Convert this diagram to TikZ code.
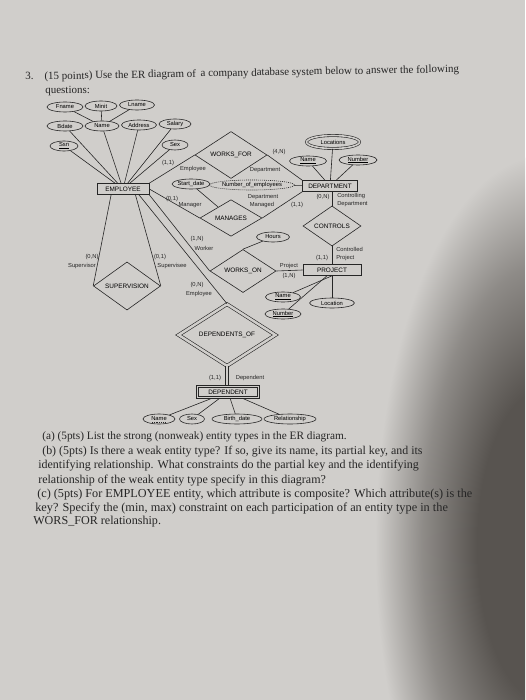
\documentclass[tikz,border=0pt]{standalone}
\usepackage{fontspec}
\setmainfont{Liberation Serif}
\setsansfont{Liberation Sans}
\usetikzlibrary{shapes.geometric, calc}

\definecolor{paper}{RGB}{208,206,203}
\definecolor{shadowc}{RGB}{88,84,80}
\definecolor{ink}{RGB}{38,38,38}
\pgfdeclareradialshading{pageshadow}{\pgfpoint{0bp}{0bp}}{color(0bp)=(shadowc); color(10bp)=(shadowc); color(18bp)=(paper!45!shadowc); color(25bp)=(paper); color(50bp)=(paper)}

\tikzset{
  entity/.style={draw=ink, rectangle, font=\sffamily\fontsize{6.4}{7}\selectfont, inner sep=0pt, minimum height=11pt},
  attr/.style={draw=ink, ellipse, font=\sffamily\fontsize{5.8}{7}\selectfont, inner sep=0pt, minimum height=10pt},
  rel/.style={draw=ink, diamond, font=\sffamily\fontsize{6.4}{7}\selectfont, inner sep=0pt},
  role/.style={font=\sffamily\fontsize{5.8}{7}\selectfont, inner sep=0pt, text=ink},
  qline/.style={anchor=base west, inner sep=0pt, font=\fontsize{#1}{14}\selectfont, text=black!85},
  link/.style={draw=ink, line width=0.6pt},
}

\begin{document}
\begin{tikzpicture}[x=1pt, y=-1pt, line width=0.6pt]
\useasboundingbox (0,0) rectangle (525,700);
\fill[paper] (0,0) rectangle (525,700);
\begin{scope}
  \clip (0,0) rectangle (525,700);
  \shade[shading=pageshadow] (545,545) ellipse (170 and 390);
\end{scope}

% question heading
\node[qline=11, rotate=1] (title) at (25,80) {3.\quad(15 points) Use the ER diagram of\, a company database system below to answer the following};
\node[qline=11] (title2) at (45,94) {questions:};

% EMPLOYEE and its attributes
\node[entity, minimum width=52pt] (employee) at (123,189) {EMPLOYEE};
\node[attr, minimum width=36pt] (fname) at (65,107) {Fname};
\node[attr, minimum width=32pt] (minit) at (101,106) {Minit};
\node[attr, minimum width=35pt] (lname) at (137,105) {Lname};
\node[attr, minimum width=36pt] (bdate) at (65,126) {Bdate};
\node[attr, minimum width=34pt] (ename) at (102,126) {Name};
\node[attr, minimum width=35pt] (address) at (139,125) {Address};
\node[attr, minimum width=32pt] (salary) at (175,124) {Salary};
\node[attr, minimum width=28pt] (ssn) at (64,146) {\underline{Ssn}};
\node[attr, minimum width=26pt] (sex) at (175,145) {Sex};
\foreach \a in {ssn, bdate, ename, address, salary, sex}
  \draw[link] (\a) -- (employee);
\foreach \a in {fname, minit, lname}
  \draw[link] (\a) -- (ename);

% DEPARTMENT
\node[entity, minimum width=55pt] (dept) at (330,186) {DEPARTMENT};
\node[attr, minimum width=53pt, minimum height=13pt, double=paper, double distance=1.6pt] (locations) at (333,142) {Locations};
\node[attr, minimum width=37pt] (dname) at (308,161) {\underline{Name}};
\node[attr, minimum width=38pt] (dnumber) at (358,160) {\underline{Number}};
\node[attr, minimum width=77pt, dash pattern=on 1pt off 1pt] (numemp) at (252,185) {Number\_of\_employees};
\draw[link] (locations) -- (dept);
\draw[link] (dname) -- (dept);
\draw[link] (dnumber) -- (dept);
\draw[link] (numemp) -- (dept);

% WORKS_FOR
\node[rel, minimum width=72pt, minimum height=44pt] (worksfor) at (231,155) {WORKS\_FOR};
\draw[link] (employee.north east) -- (worksfor.west);
\draw[link] (worksfor.east) -- (dept.north west);
\node[role] at (168,163) {(1,1)};
\node[role] at (193,169) {Employee};
\node[role] at (279,152) {(4,N)};
\node[role] at (265,170) {Department};

% MANAGES
\node[rel, minimum width=62pt, minimum height=36pt] (manages) at (231,218) {MANAGES};
\node[attr, minimum width=32pt] (startdate) at (191,184) {Start\_date};
\draw[link] (startdate) -- (manages);
\draw[link] (employee.east) -- (manages.west);
\draw[link] (manages.east) -- (dept.south west);
\node[role] at (172,199) {(0,1)};
\node[role] at (190,205) {Manager};
\node[role] at (263,197) {Department};
\node[role] at (262,205) {Managed};
\node[role] at (297,205) {(1,1)};

% CONTROLS and PROJECT
\node[rel, minimum width=58pt, minimum height=34pt] (controls) at (332,226) {CONTROLS};
\node[entity, minimum width=58pt] (project) at (332,270) {PROJECT};
\draw[link] (dept.south -| controls.north) -- (controls.north);
\draw[link] (controls.south) -- (project.north -| controls.south);
\node[role] at (323,197) {(0,N)};
\node[role, anchor=west] at (337,196) {Controlling};
\node[role, anchor=west] at (337,204) {Department};
\node[role, anchor=west] at (336,249) {Controlled};
\node[role, anchor=west] at (336,258) {Project};
\node[role] at (322,258) {(1,1)};
\node[attr, minimum width=35pt] (pname) at (283,297) {\underline{Name}};
\node[attr, minimum width=36pt] (pnumber) at (283,314) {\underline{Number}};
\node[attr, minimum width=45pt] (plocation) at (332,303) {Location};
\draw[link] (pname) -- (project.south);
\draw[link] (pnumber) -- ($(project.south)+(-5,0)$);
\draw[link] (plocation) -- (plocation |- project.south);

% WORKS_ON
\node[rel, minimum width=66pt, minimum height=38pt] (workson) at (243,271) {WORKS\_ON};
\node[attr, minimum width=33pt] (hours) at (273,237) {Hours};
\draw[link] (hours) -- (workson.north);
\draw[link] (employee.south east) -- (workson.west);
\draw[link] (workson.east) -- (project.west);
\node[role] at (197,239) {(1,N)};
\node[role] at (204,248) {Worker};
\node[role] at (289,266) {Project};
\node[role] at (289,276) {(1,N)};

% SUPERVISION
\node[rel, minimum width=67pt, minimum height=39pt] (supervision) at (127,286) {SUPERVISION};
\draw[link] (employee.206) -- (supervision.west);
\draw[link] (employee.335) -- (supervision.east);
\node[role] at (92,257) {(0,N)};
\node[role] at (82,266) {Supervisor};
\node[role] at (160,257) {(0,1)};
\node[role] at (172,266) {Supervisee};

% DEPENDENTS_OF and DEPENDENT
\node[rel, minimum width=97pt, minimum height=55pt, double=paper, double distance=2.5pt] (depof) at (227,335) {DEPENDENTS\_OF};
\node[entity, minimum width=63pt, minimum height=13pt] (dependent) at (228,392) {DEPENDENT};
\draw[ink] ($(dependent.south west)+(2.4,-2.4)$) rectangle ($(dependent.north east)+(-2.4,2.4)$);
\draw[link] (employee.340) -- (depof.north);
\draw[link, double=paper, double distance=2.2pt] (depof.south) -- (depof.south |- dependent.north);
\node[role] at (197,285) {(0,N)};
\node[role] at (199,294) {Employee};
\node[role] at (215,378) {(1,1)};
\node[role] at (250,378) {Dependent};
\node[attr, minimum width=32pt] (depname) at (159,419) {Name};
\draw[ink, line width=0.4pt, dash pattern=on 1pt off 0.8pt] ($(depname.center)+(-7,3.2)$) -- ($(depname.center)+(7,3.2)$);
\node[attr, minimum width=25pt] (depsex) at (192,419) {Sex};
\node[attr, minimum width=50pt] (birthdate) at (237,419) {Birth\_date};
\node[attr, minimum width=52pt] (relationship) at (290,419) {Relationship};
\foreach \a in {depname, depsex, birthdate, relationship}
  \draw[link] (\a) -- (dependent);

% questions
\node[qline=11.3] (qa) at (42,439) {(a) (5pts) List the strong (nonweak) entity types in the ER diagram.};
\node[qline=11.9] (qb) at (42,454) {(b) (5pts) Is there a weak entity type? If so, give its name, its partial key, and its};
\node[qline=12] (qb2) at (38,468) {identifying relationship. What constraints do the partial key and the identifying};
\node[qline=12] (qb3) at (38,483) {relationship of the weak entity type specify in this diagram?};
\node[qline=12.2] (qc) at (37,497) {(c) (5pts) For EMPLOYEE entity, which attribute is composite? Which attribute(s) is the};
\node[qline=12.3] (qc2) at (35,511) {key? Specify the (min, max) constraint on each participation of an entity type in the};
\node[qline=12.1] (qc3) at (33,524) {WORS\_FOR relationship.};
\end{tikzpicture}
\end{document}
